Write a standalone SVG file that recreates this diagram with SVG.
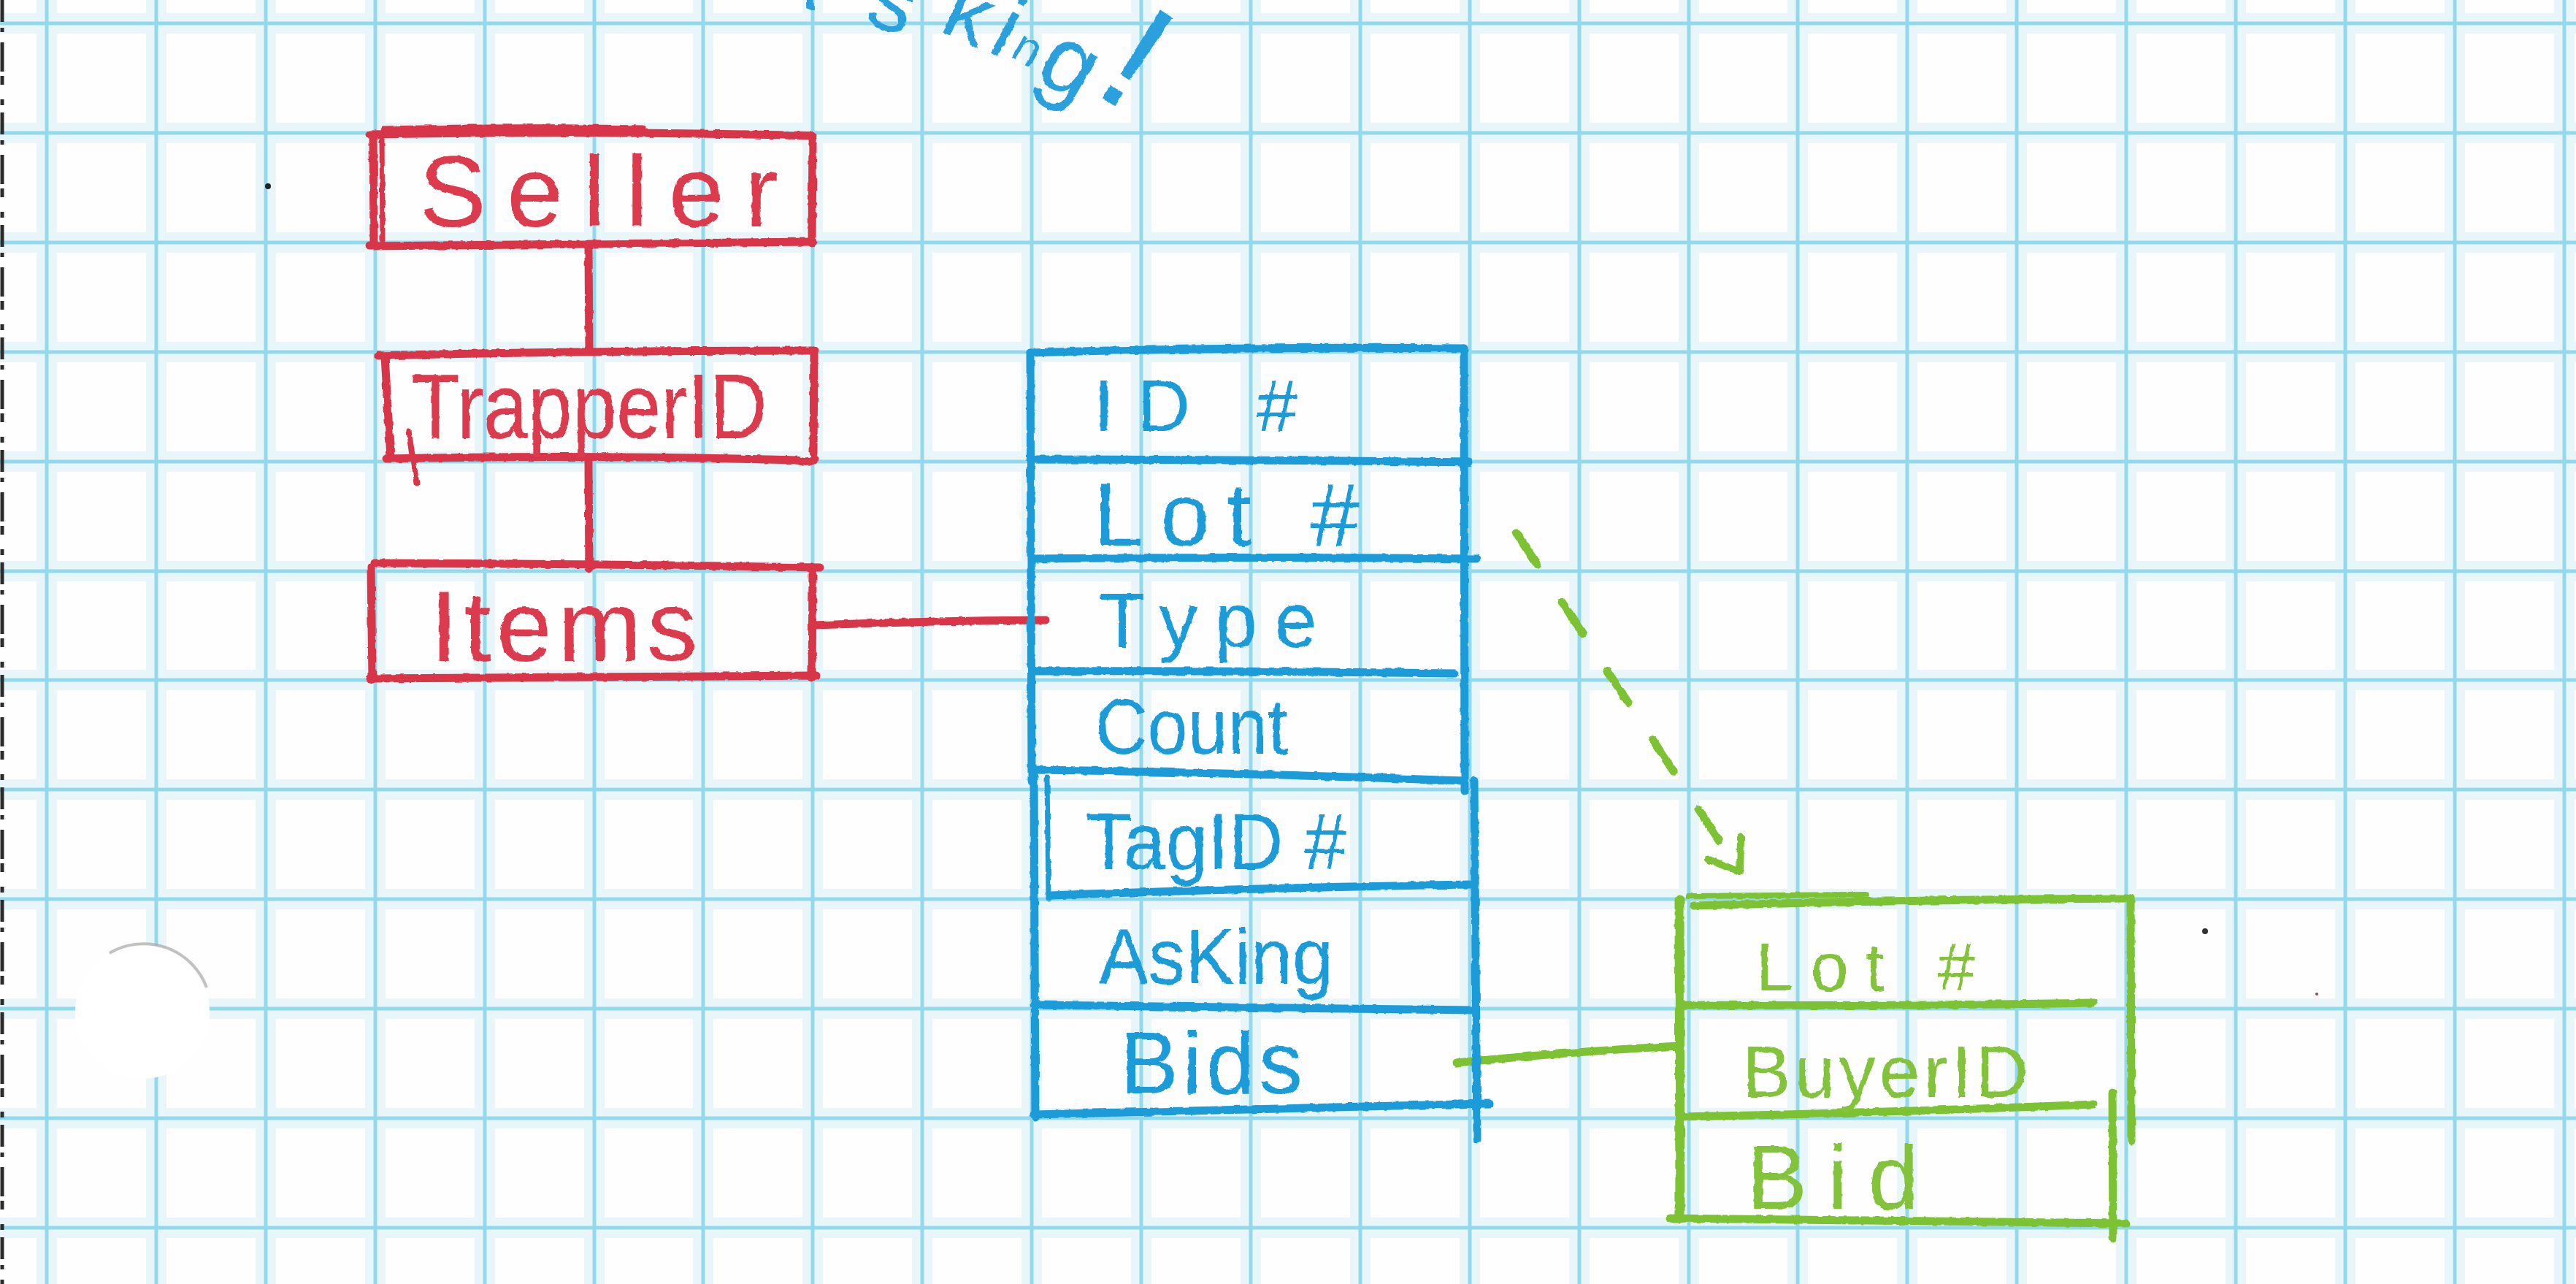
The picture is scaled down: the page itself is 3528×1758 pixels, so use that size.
<svg xmlns="http://www.w3.org/2000/svg" width="3528" height="1758" viewBox="0 0 3528 1758">
  <defs>
    <style>
      .halo { fill: none; stroke: #e8f6fa; stroke-width: 28; }
      .rule { fill: none; stroke: #92d9ee; stroke-width: 5; }
      .ink { fill: none; stroke-linecap: round; stroke-linejoin: round; }
      .red { stroke: #d8344a; stroke-width: 11; }
      .blue { stroke: #1f9bd9; stroke-width: 11; }
      .green { stroke: #7dc232; stroke-width: 11; }
      .hand { font-family: "Liberation Sans", "DejaVu Sans", sans-serif; }
      .t-red { fill: #dc3a4e; }
      .t-blue { fill: #1f9bd9; }
      .t-green { fill: #82c33a; }
    </style>
    <filter id="rough" filterUnits="userSpaceOnUse" x="0" y="0" width="3528" height="1758">
      <feTurbulence type="fractalNoise" baseFrequency="0.09" numOctaves="2" seed="4" result="n"/>
      <feDisplacementMap in="SourceGraphic" in2="n" scale="4" xChannelSelector="R" yChannelSelector="G"/>
    </filter>
    <marker id="vhead" markerUnits="userSpaceOnUse" markerWidth="90" markerHeight="90" viewBox="-60 -45 90 90" refX="0" refY="0" orient="auto" overflow="visible">
      <path d="M -39 -27 L 0 0 L -39 27" fill="none" stroke="#7dc232" stroke-width="10" stroke-linecap="round" stroke-linejoin="round"/>
    </marker>
  </defs>

  <!-- paper -->
  <rect width="3528" height="1758" fill="#fefefe"/>

  <!-- graph-paper rules -->
  <g id="grid">
    <path class="halo" d="M64 0V1758M214 0V1758M364 0V1758M514 0V1758M664 0V1758M814 0V1758M963 0V1758M1113 0V1758M1263 0V1758M1413 0V1758M1563 0V1758M1713 0V1758M1863 0V1758M2013 0V1758M2163 0V1758M2313 0V1758M2462 0V1758M2612 0V1758M2762 0V1758M2912 0V1758M3062 0V1758M3212 0V1758M3362 0V1758M3512 0V1758M0 32H3528M0 182H3528M0 332H3528M0 482H3528M0 632H3528M0 782H3528M0 931H3528M0 1081H3528M0 1231H3528M0 1381H3528M0 1531H3528M0 1681H3528"/>
    <path class="rule" d="M64 0V1758M214 0V1758M364 0V1758M514 0V1758M664 0V1758M814 0V1758M963 0V1758M1113 0V1758M1263 0V1758M1413 0V1758M1563 0V1758M1713 0V1758M1863 0V1758M2013 0V1758M2163 0V1758M2313 0V1758M2462 0V1758M2612 0V1758M2762 0V1758M2912 0V1758M3062 0V1758M3212 0V1758M3362 0V1758M3512 0V1758M0 32H3528M0 182H3528M0 332H3528M0 482H3528M0 632H3528M0 782H3528M0 931H3528M0 1081H3528M0 1231H3528M0 1381H3528M0 1531H3528M0 1681H3528"/>
  </g>

  <!-- punched hole and scan edge -->
  <circle cx="195" cy="1385" r="92" fill="#ffffff"/>
  <path d="M 150 1305 A 92 92 0 0 1 283 1352" fill="none" stroke="#a8a8a8" stroke-width="4" opacity="0.7"/>
  <path d="M3 0V1758" stroke="#2b2b2b" stroke-width="5" stroke-dasharray="30 8 6 14 40 6 12 20 8 10"/>
  <circle cx="367" cy="255" r="4" fill="#222"/>
  <circle cx="3020" cy="1275" r="4" fill="#333"/>
  <circle cx="3173" cy="1361" r="2" fill="#7a5050"/>

  <!-- note at the top edge -->
  <g id="note" filter="url(#rough)">
    <text class="hand" fill="#2aa0dc" font-size="120"><tspan x="1040" y="-12" rotate="20">A</tspan><tspan x="1182" y="30" rotate="20">s</tspan><tspan x="1284" y="42" rotate="24">k</tspan><tspan x="1350" y="68" rotate="28">i</tspan><tspan x="1382" y="76" font-size="64" rotate="30">n</tspan><tspan x="1414" y="106" font-size="130" rotate="30">g</tspan><tspan x="1494" y="124" font-size="210" rotate="33">!</tspan></text>
  </g>

  <!-- connectors -->
  <g id="connectors" class="ink" filter="url(#rough)">
    <path class="red" d="M 806 336 L 807 478"/>
    <path class="red" d="M 806 632 L 807 778"/>
    <path class="red" stroke-width="14" d="M 1115 856 Q 1270 850 1432 849"/>
    <path class="green" stroke-width="9" d="M 1995 1455 Q 2150 1440 2300 1432"/>
    <path class="green" stroke-width="10" stroke-dasharray="52 61" marker-end="url(#vhead)" d="M 2077 730 L 2383 1194"/>
  </g>

  <!-- seller entity -->
  <g id="node-seller" filter="url(#rough)">
    <g class="ink red">
      <path d="M 507 184 Q 800 178 1112 186"/>
      <path stroke-width="7" d="M 525 176 Q 700 172 880 175"/>
      <path d="M 511 186 L 512 336"/>
      <path stroke-width="7" d="M 523 190 L 524 330"/>
      <path d="M 1113 190 L 1112 333"/>
      <path d="M 506 337 Q 800 333 1114 331"/>
    </g>
    <text class="hand t-red" x="574" y="310" font-size="138" textLength="492" lengthAdjust="spacing">Seller</text>
  </g>

  <!-- trapper entity -->
  <g id="node-trapperid" filter="url(#rough)">
    <g class="ink red">
      <path d="M 518 487 Q 800 480 1116 480"/>
      <path d="M 527 487 L 535 628"/>
      <path d="M 1115 482 L 1114 620"/>
      <path d="M 529 628 Q 800 622 1090 630 Q 1110 636 1116 628"/>
      <path stroke-width="7" d="M 560 590 L 571 662"/>
    </g>
    <text class="hand t-red" x="563" y="600" font-size="126" textLength="488" lengthAdjust="spacingAndGlyphs">TrapperID</text>
  </g>

  <!-- items entity -->
  <g id="node-items" filter="url(#rough)">
    <g class="ink red">
      <path d="M 513 771 Q 800 772 1123 777"/>
      <path d="M 508 777 L 510 930"/>
      <path d="M 1113 786 L 1112 928"/>
      <path d="M 507 929 Q 800 926 1118 925"/>
    </g>
    <text class="hand t-red" x="589" y="905" font-size="138" textLength="366" lengthAdjust="spacing">Items</text>
  </g>

  <!-- item record -->
  <g id="node-item-record" filter="url(#rough)">
    <g class="ink blue">
      <path d="M 1411 483 Q 1700 474 2005 477"/>
      <path d="M 1411 483 L 1413 1069"/>
      <path d="M 1416 1061 L 1418 1530"/>
      <path stroke-width="7" d="M 1434 1065 L 1436 1230"/>
      <path d="M 2005 477 L 2006 1083"/>
      <path d="M 2019 1069 L 2023 1560"/>
      <path d="M 1411 629 Q 1700 629 2012 633"/>
      <path d="M 1416 765 Q 1700 762 2023 765"/>
      <path d="M 1416 919 Q 1700 918 1992 922"/>
      <path d="M 1414 1054 Q 1700 1058 2005 1069"/>
      <path d="M 1440 1226 Q 1700 1216 2014 1211"/>
      <path d="M 1416 1376 Q 1700 1378 2018 1383"/>
      <path d="M 1416 1526 Q 1700 1520 2040 1511"/>
    </g>
    <g class="hand t-blue">
      <text x="1498" y="590" font-size="100" textLength="279" lengthAdjust="spacing">ID #</text>
      <text x="1498" y="747" font-size="122" textLength="364" lengthAdjust="spacing">Lot #</text>
      <text x="1505" y="886" font-size="105" textLength="299" lengthAdjust="spacing">Type</text>
      <text x="1500" y="1032" font-size="108" textLength="264" lengthAdjust="spacingAndGlyphs">Count</text>
      <text x="1487" y="1190" font-size="110" textLength="357" lengthAdjust="spacingAndGlyphs">TagID #</text>
      <text x="1505" y="1347" font-size="108" textLength="321" lengthAdjust="spacingAndGlyphs">AsKing</text>
      <text x="1534" y="1497" font-size="120" textLength="250" lengthAdjust="spacing">Bids</text>
    </g>
  </g>

  <!-- bid record -->
  <g id="node-bid-record" filter="url(#rough)">
    <g class="ink green">
      <path stroke-width="8" d="M 2312 1227 L 2555 1225"/>
      <path d="M 2319 1240 Q 2600 1232 2918 1230"/>
      <path stroke-width="13" d="M 2300 1232 L 2301 1668"/>
      <path d="M 2918 1230 L 2919 1562"/>
      <path d="M 2893 1496 L 2894 1695"/>
      <path d="M 2306 1376 Q 2600 1378 2867 1373"/>
      <path d="M 2300 1529 Q 2600 1523 2867 1512"/>
      <path d="M 2287 1668 Q 2600 1672 2912 1675"/>
    </g>
    <g class="hand t-green">
      <text x="2405" y="1356" font-size="92" textLength="300" lengthAdjust="spacing">Lot #</text>
      <text x="2386" y="1502" font-size="100" textLength="392" lengthAdjust="spacing">BuyerID</text>
      <text x="2392" y="1655" font-size="125" textLength="236" lengthAdjust="spacing">Bid</text>
    </g>
  </g>
</svg>
